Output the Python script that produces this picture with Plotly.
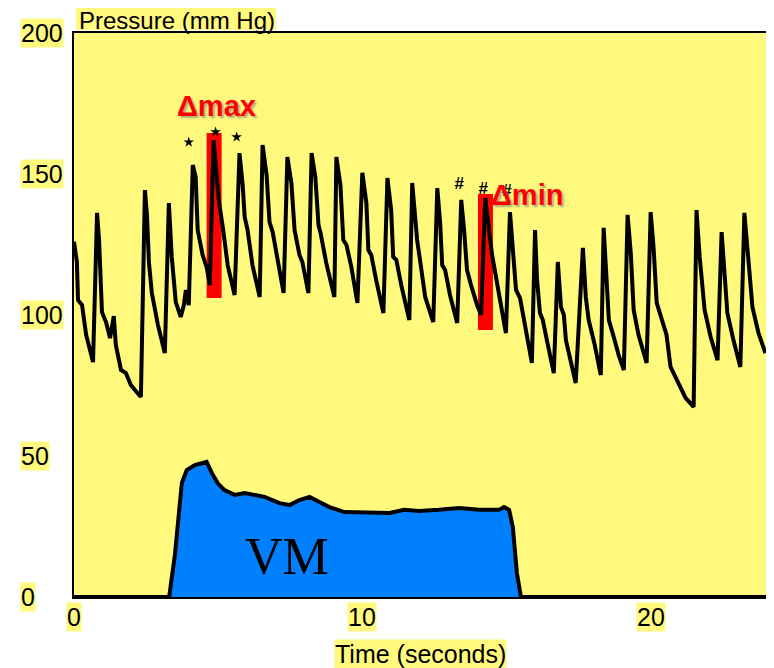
import plotly.graph_objects as go

# ---------------- data ----------------
# arterial pressure trace (time s, pressure mmHg)
bp_time = [0.00, 0.10, 0.14, 0.28, 0.42, 0.66, 0.80, 0.87, 0.97, 1.11, 1.25, 1.38, 1.45, 1.63, 1.80, 1.97, 2.32,
           2.46, 2.53, 2.60, 2.70, 2.91, 3.15, 3.29, 3.39, 3.53, 3.70, 3.81, 3.88, 3.98, 4.12, 4.22, 4.29, 4.46,
           4.60, 4.71, 4.84, 5.02, 5.16, 5.33, 5.57, 5.74, 5.85, 5.92, 6.02, 6.19, 6.44, 6.54, 6.68, 6.78, 6.89,
           7.09, 7.27, 7.40, 7.54, 7.65, 7.82, 7.92, 8.13, 8.24, 8.37, 8.48, 8.55, 8.75, 9.03, 9.10, 9.24, 9.34,
           9.45, 9.62, 9.83, 10.00, 10.14, 10.21, 10.31, 10.48, 10.73, 10.87, 11.00, 11.07, 11.18, 11.35, 11.63,
           11.73, 11.83, 11.90, 12.01, 12.18, 12.46, 12.60, 12.70, 12.77, 12.87, 13.04, 13.29, 13.43, 13.53,
           13.63, 13.77, 13.98, 14.12, 14.26, 14.50, 14.64, 14.78, 14.98, 15.12, 15.22, 15.33, 15.47, 15.61,
           15.78, 15.88, 15.99, 16.06, 16.16, 16.26, 16.40, 16.64, 16.78, 16.89, 16.99, 17.06, 17.40, 17.65,
           17.75, 17.85, 18.06, 18.27, 18.37, 18.44, 18.55, 18.72, 18.89, 19.07, 19.20, 19.31, 19.41, 19.58,
           19.86, 20.00, 20.10, 20.21, 20.38, 20.55, 20.69, 20.97, 21.21, 21.49, 21.59, 21.70, 21.87, 22.08,
           22.32, 22.46, 22.56, 22.66, 22.87, 23.11, 23.25, 23.36, 23.53, 23.74, 23.98]
bp_value = [126.0, 118.8, 105.3, 103.5, 93.0, 83.3, 136.2, 126.6, 101.0, 97.5, 91.8, 99.6, 89.4, 80.5, 79.4, 75.2, 70.9,
            144.3, 135.5, 118.4, 107.8, 96.5, 86.5, 139.7, 120.6, 104.6, 99.3, 103.5, 108.9, 103.5, 153.2, 148.9, 130.1, 121.3,
            117.0, 110.6, 162.0, 140.8, 131.2, 117.7, 107.1, 157.4, 146.1, 134.8, 130.1, 117.7, 106.4, 160.3, 149.6, 133.0, 129.4,
            117.7, 107.8, 156.0, 146.8, 130.1, 121.3, 118.8, 107.8, 157.4, 148.9, 131.9, 129.1, 118.4, 106.4, 156.0, 146.1, 126.6,
            124.8, 117.0, 104.3, 150.4, 139.7, 123.0, 121.3, 112.4, 100.7, 148.6, 137.2, 120.6, 119.5, 110.6, 98.2,
            146.8, 135.5, 126.6, 118.8, 106.4, 97.5, 145.0, 132.6, 117.7, 116.0, 107.1, 97.2, 140.8, 130.1,
            116.0, 110.6, 103.5, 100.0, 141.5, 121.3, 113.5, 105.3, 93.6, 136.5, 122.0, 108.9, 106.0, 97.5,
            87.6, 83.0, 130.1, 112.4, 100.7, 98.2, 91.1, 79.4, 118.8, 102.8, 100.0, 91.1, 75.9, 123.8,
            106.4, 98.2, 89.4, 78.7, 130.9, 116.0, 98.2, 92.2, 85.8, 80.5, 135.5, 122.0, 101.8, 92.9,
            83.0, 136.5, 124.1, 104.3, 98.2, 92.9, 81.6, 75.9, 70.6, 67.4, 137.2, 120.6, 101.8, 92.2,
            84.0, 129.4, 117.0, 100.7, 91.1, 81.6, 136.2, 124.1, 102.8, 93.6, 86.5]

# Valsalva manoeuvre (airway) pressure
vm_time = [0.0, 3.30, 3.50, 3.74, 3.91, 4.19, 4.46, 4.60, 4.78, 4.98, 5.22, 5.57, 5.92, 6.26, 6.61, 7.13, 7.47,
           7.82, 8.17, 8.51, 8.86, 9.38, 9.90, 10.42, 10.94, 11.45, 11.97, 12.66, 13.36, 14.05, 14.74, 14.91,
           15.09, 15.22, 15.36, 15.50, 24.0]
vm_value = [0.0, 0.0, 15.0, 40.4, 45.0, 46.8, 47.5, 47.9, 44.0, 40.4, 37.9, 36.2, 36.9, 36.2, 35.5, 33.3, 32.6,
            34.4, 35.5, 33.7, 31.9, 30.1, 30.1, 30.1, 29.8, 30.9, 30.5, 30.9, 31.6, 30.9, 30.9, 31.9,
            30.9, 24.8, 8.5, 0.0, 0.0]

# red delta bars
delta_labels = ["\u0394max", "\u0394min"]
delta_center = [4.86, 14.27]
delta_width = [0.52, 0.52]
delta_low = [106.0, 94.7]
delta_high = [164.5, 142.9]
delta_label_x = [4.95, 15.72]
delta_label_y = [174.0, 142.5]

# beat markers
star_time = [3.98, 4.91, 5.64]
star_value = [161.3, 164.9, 163.1]
hash_time = [13.36, 14.19, 15.02]
hash_value = [146.1, 144.3, 143.6]

x_ticks = [0, 10, 20]
y_ticks = [0, 50, 100, 150, 200]
x_title = "Time (seconds)"
y_title = "Pressure (mm Hg)"
vm_label = "VM"

# ---------------- styles ----------------
YELLOW = "#FFF97E"
BLUE = "#0080FF"
RED = "#FF0000"
FONT = "Liberation Sans"

fig = go.Figure()

fig.add_trace(go.Scatter(x=vm_time, y=vm_value, mode="lines", fill="tozeroy",
                         fillcolor=BLUE, line=dict(color="black", width=4), hoverinfo="skip"))
fig.add_trace(go.Scatter(x=bp_time, y=bp_value, mode="lines",
                         line=dict(color="black", width=4), hoverinfo="skip"))
fig.add_trace(go.Bar(x=delta_center, y=[h - l for h, l in zip(delta_high, delta_low)], base=delta_low,
                     width=delta_width, marker=dict(color=RED, line=dict(width=0)), hoverinfo="skip"))
fig.add_trace(go.Scatter(x=star_time, y=star_value, mode="markers",
                         marker=dict(symbol="star", size=8, color="black"), hoverinfo="skip"))
fig.add_trace(go.Scatter(x=hash_time, y=hash_value, mode="text", text=["#"] * len(hash_time),
                         textfont=dict(family=FONT, size=17, color="black", weight="bold"), hoverinfo="skip"))

annotations = []
for lab, lx, ly in zip(delta_labels, delta_label_x, delta_label_y):
    annotations.append(dict(x=lx, y=ly, xref="x", yref="y", text=lab, showarrow=False,
                            xanchor="center", yanchor="middle",
                            font=dict(family=FONT, size=29, color=RED, weight="bold",
                                      shadow="2px 2px 2px rgba(120,120,120,0.6)")))
annotations.append(dict(x=7.4, y=14.5, xref="x", yref="y", text=vm_label, showarrow=False,
                        xanchor="center", yanchor="middle",
                        font=dict(family="Liberation Serif", size=52, color="black")))
for v in y_ticks:
    annotations.append(dict(x=-0.078, y=v, xref="paper", yref="y", xanchor="left", yanchor="middle",
                            text=str(v), showarrow=False,
                            bgcolor=YELLOW, borderpad=0, font=dict(family=FONT, size=25, color="black")))
for v in x_ticks:
    annotations.append(dict(x=v, y=-0.036, xref="x", yref="paper", xanchor="center", yanchor="middle",
                            text=str(v), showarrow=False,
                            bgcolor=YELLOW, borderpad=0, font=dict(family=FONT, size=25, color="black")))
annotations.append(dict(x=0.004, y=1.023, xref="paper", yref="paper", xanchor="left", yanchor="middle",
                        text=y_title, showarrow=False,
                        font=dict(family=FONT, size=24, color="black")))
annotations.append(dict(x=12.0, y=-0.101, xref="x", yref="paper", xanchor="center", yanchor="middle",
                        text=x_title, showarrow=False,
                        bgcolor=YELLOW, borderpad=0, font=dict(family=FONT, size=25, color="black")))

fig.update_layout(
    width=766, height=660,
    margin=dict(l=66, r=6, t=25, b=71),
    paper_bgcolor="white", plot_bgcolor=YELLOW,
    showlegend=False,
    annotations=annotations,
    shapes=[dict(type="rect", xref="paper", yref="paper", x0=0.003, x1=0.292, y0=1.0055, y1=1.0443,
                 fillcolor=YELLOW, line=dict(width=0), layer="below")],
    xaxis=dict(range=[0, 24], showgrid=False, zeroline=False, showticklabels=False, ticks="",
               showline=True, linecolor="black", linewidth=2, mirror=True, tickvals=x_ticks),
    yaxis=dict(range=[0, 200], showgrid=False, zeroline=False, showticklabels=False, ticks="",
               showline=True, linecolor="black", linewidth=2, mirror=True, tickvals=y_ticks),
)

fig.write_html("out.html")
